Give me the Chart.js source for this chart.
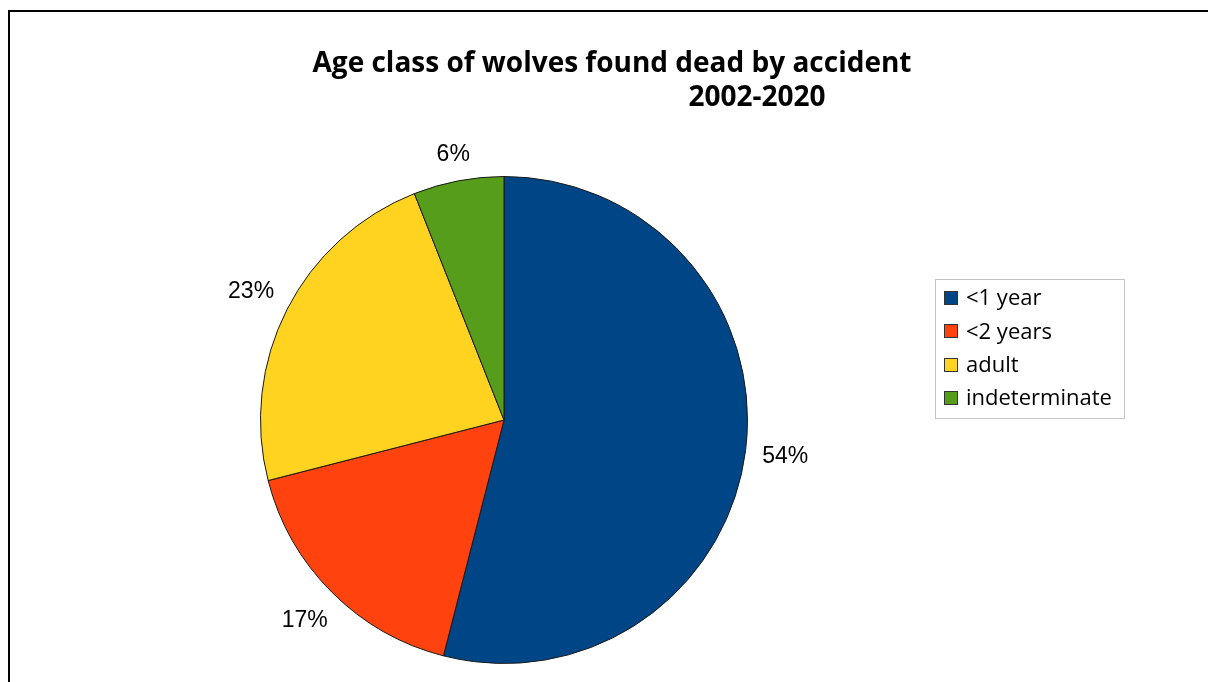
<!DOCTYPE html>
<html>
<head>
<meta charset="utf-8">
<script src="https://cdn.jsdelivr.net/npm/chart.js@4/dist/chart.umd.min.js"></script>
<style>
  html, body { margin: 0; padding: 0; background: #ffffff; }
  #wrap { width: 1208px; height: 682px; position: relative; }
</style>
</head>
<body>
<div id="wrap"><canvas id="pieChart" width="1208" height="682"></canvas></div>
<script>
const ageClasses = ["<1 year", "<2 years", "adult", "indeterminate"];
const sharePct = [54, 17, 23, 6];
const sliceColors = ["#004586", "#ff420e", "#ffd320", "#579d1c"];
const titleLines = ["Age class of wolves found dead by accident", "2002-2020"];

// outer frame (left + top edge, rest is cut off)
const framePlugin = {
    id: "frame",
    beforeDraw(chart) {
        const ctx = chart.ctx;
        ctx.save();
        ctx.fillStyle = "#ffffff";
        ctx.fillRect(0, 0, chart.width, chart.height);
        ctx.strokeStyle = "#000000";
        ctx.lineWidth = 2;
        ctx.beginPath();
        ctx.moveTo(9, chart.height + 2);
        ctx.lineTo(9, 11);
        ctx.lineTo(chart.width + 2, 11);
        ctx.stroke();
        ctx.restore();
    }
};

const titlePlugin = {
    id: "twoLineTitle",
    afterDraw(chart) {
        const ctx = chart.ctx;
        ctx.save();
        ctx.fillStyle = "#000000";
        ctx.font = "bold 28px 'Open Sans'";
        ctx.textAlign = "center";
        ctx.textBaseline = "alphabetic";
        ctx.fillText(titleLines[0], 612, 72);
        ctx.fillText(titleLines[1], 757, 106);
        ctx.restore();
    }
};

// percentage labels outside each slice
const outsideLabels = {
    id: "outsideLabels",
    afterDatasetsDraw(chart) {
        const ctx = chart.ctx;
        const meta = chart.getDatasetMeta(0);
        ctx.save();
        ctx.font = "23px 'Liberation Sans'";
        ctx.fillStyle = "#000000";
        ctx.textAlign = "center";
        ctx.textBaseline = "middle";
        meta.data.forEach((arc, i) => {
            const p = arc.getProps(["x", "y", "startAngle", "endAngle", "outerRadius"], true);
            const mid = (p.startAngle + p.endAngle) / 2;
            const ux = Math.cos(mid), uy = Math.sin(mid);
            const txt = sharePct[i] + "%";
            const w = ctx.measureText(txt).width;
            const h = 17;
            const d = p.outerRadius + 16 + Math.abs(ux) * w / 2 + Math.abs(uy) * h / 2;
            ctx.fillText(txt, p.x + ux * d, p.y + uy * d + 1);
        });
        ctx.restore();
    }
};

// legend in its grey box, right of the pie
const boxLegend = {
    id: "boxLegend",
    afterDraw(chart) {
        const ctx = chart.ctx;
        const ds = chart.data.datasets[0];
        const left = 935, top = 279, width = 189, height = 139;
        const rowGap = 33.3;
        ctx.save();
        ctx.strokeStyle = "#c4c4c4";
        ctx.lineWidth = 1;
        ctx.strokeRect(left + 0.5, top + 0.5, width, height);
        ctx.font = "22px 'Open Sans'";
        ctx.textAlign = "left";
        ctx.textBaseline = "middle";
        chart.data.labels.forEach((lab, i) => {
            const cy = top + 19 + i * rowGap;
            ctx.fillStyle = ds.backgroundColor[i];
            ctx.fillRect(left + 9, Math.round(cy - 7), 14, 14);
            ctx.strokeStyle = "#333333";
            ctx.strokeRect(left + 9.5, Math.round(cy - 7) + 0.5, 13, 13);
            ctx.fillStyle = "#000000";
            ctx.fillText(lab, left + 31, cy + 1);
        });
        ctx.restore();
    }
};

const ctx = document.getElementById("pieChart").getContext("2d");
new Chart(ctx, {
    type: "pie",
    data: {
        labels: ageClasses,
        datasets: [{
            data: sharePct,
            backgroundColor: sliceColors,
            borderColor: "#1a1a1a",
            borderWidth: 1
        }]
    },
    options: {
        responsive: false,
        animation: false,
        layout: { padding: { top: 176, bottom: 18, left: 260, right: 460 } },
        plugins: {
            title: { display: false },
            tooltip: { enabled: false },
            legend: { display: false }
        }
    },
    plugins: [framePlugin, titlePlugin, outsideLabels, boxLegend]
});
</script>
</body>
</html>
